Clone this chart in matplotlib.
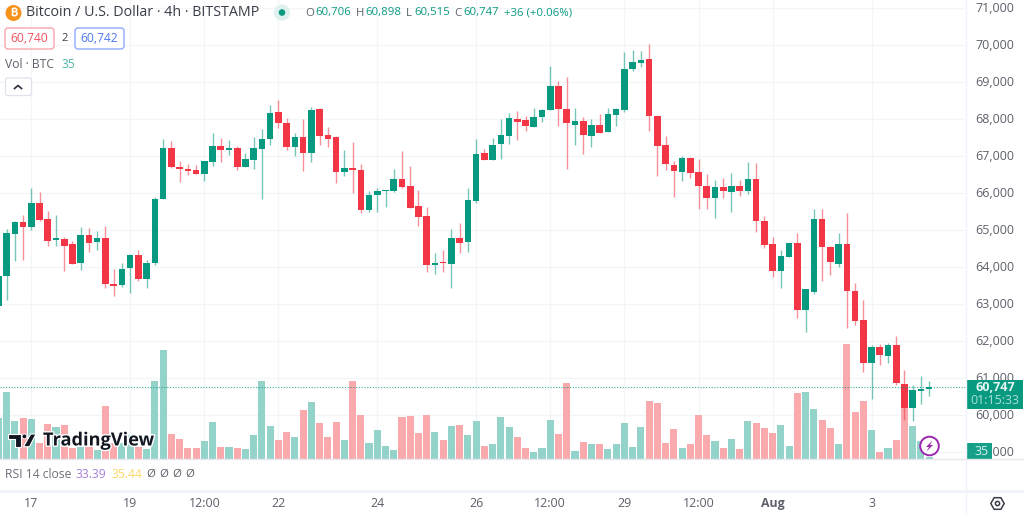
import matplotlib
matplotlib.use('Agg')
import matplotlib.pyplot as plt
import matplotlib.patheffects as pe
from matplotlib.patches import Circle, FancyBboxPatch, Polygon, Rectangle, RegularPolygon
from matplotlib.transforms import ScaledTranslation

plt.rcParams['font.family'] = ['Open Sans', 'DejaVu Sans']

# 4h candles
opens = [62950, 63757, 64874, 65208, 65073, 65721, 65280, 64712, 64739, 64622,
         64091, 64865, 64676, 64766, 63532, 63514, 63955, 64325, 63676, 64091,
         65829, 67217, 66703, 66640, 66604, 66505, 66829, 67262, 67145, 67199,
         66694, 66883, 67190, 67451, 68172, 67892, 67226, 67514, 67064, 68262,
         67550, 67496, 66568, 66676, 66613, 65523, 65928, 66046, 66037, 66379,
         66181, 65640, 65361, 64055, 64118, 64073, 64766, 64658, 65766, 67064,
         66883, 67325, 67541, 68001, 67956, 67784, 68046, 68226, 68874, 68271,
         67820, 67938, 67541, 67838, 67640, 68109, 68226, 69352, 69514, 69604,
         68073, 67280, 66757, 66568, 66938, 66559, 66181, 65866, 66154, 66028,
         66181, 66046, 66361, 65226, 64605, 63875, 64253, 64650, 62821, 63316,
         65280, 64542, 64082, 64605, 63344, 62551, 61407, 61830, 61587, 61875,
         60830, 60190, 60650, 60706]
closes = [63750, 64901, 65208, 65073, 65721, 65271, 64694, 64766, 64559, 64073,
          64865, 64649, 64766, 63541, 63478, 63946, 64307, 63676, 64091, 65838,
          67217, 66685, 66631, 66577, 66505, 66847, 67262, 67145, 67199, 66703,
          66901, 67199, 67460, 68154, 67892, 67244, 67514, 67064, 68235, 67541,
          67460, 66568, 66676, 66604, 65532, 65937, 66037, 66064, 66379, 66163,
          65595, 65352, 64055, 64100, 64100, 64766, 64649, 65802, 67037, 66883,
          67298, 67559, 68019, 67911, 67802, 68055, 68235, 68874, 68262, 67883,
          67938, 67568, 67838, 67622, 68118, 68253, 69352, 69532, 69577, 68082,
          67262, 66766, 66586, 66938, 66541, 66172, 65847, 66163, 66046, 66181,
          66046, 66361, 65226, 64596, 63893, 64289, 64650, 62821, 63389, 65280,
          64533, 64118, 64605, 63344, 62524, 61407, 61830, 61605, 61875, 60866,
          60181, 60659, 60695, 60747]
highs = [63800, 65010, 65226, 65397, 66118, 66018, 65514, 65406, 64793, 64685,
         65082, 65037, 64964, 65100, 63946, 64109, 64334, 64442, 64172, 65874,
         67460, 67397, 66856, 66775, 66757, 66847, 67613, 67478, 67433, 67253,
         67073, 67514, 67730, 68379, 68505, 68010, 67604, 67982, 68325, 68280,
         67766, 67532, 67154, 67361, 66775, 66037, 66118, 66064, 66631, 67118,
         66721, 66064, 65604, 64361, 64451, 65010, 65172, 66136, 67451, 67181,
         67478, 68001, 68145, 68217, 68073, 68289, 68271, 69415, 69010, 69118,
         68289, 68037, 67992, 68127, 68289, 68280, 69793, 69856, 69829, 70010,
         68100, 67532, 66866, 66983, 66974, 66920, 66514, 66334, 66397, 66523,
         66343, 66820, 66793, 65380, 64812, 64452, 64650, 64911, 63389, 65560,
         65551, 64569, 64902, 65461, 63551, 63109, 61893, 61911, 61929, 62136,
         61217, 60794, 61055, 60898]
lows = [62950, 63100, 64154, 64181, 65000, 65244, 64568, 64559, 63892, 64073,
        63919, 64406, 64460, 63415, 63217, 63442, 63298, 63622, 63415, 64037,
        65829, 66676, 66289, 66487, 66505, 66325, 66730, 66838, 67009, 66622,
        66685, 66640, 65829, 67298, 67757, 67163, 66982, 66586, 66838, 67298,
        67244, 66271, 66460, 65983, 65451, 65487, 65469, 65622, 66010, 66136,
        65577, 65109, 63857, 63811, 63866, 63415, 64370, 64406, 65712, 66874,
        66874, 66919, 67325, 67424, 67667, 67784, 67919, 68226, 67802, 66649,
        67280, 67055, 67244, 67622, 67631, 67811, 68190, 69289, 69406, 67667,
        66451, 66604, 65875, 66325, 66406, 65550, 65550, 65307, 65866, 65487,
        65919, 65974, 64929, 64515, 63713, 63416, 64253, 62614, 62235, 63271,
        63623, 63776, 64001, 62344, 62434, 61163, 60434, 61344, 61407, 60794,
        59857, 59830, 60290, 60515]
volumes = [610, 1000, 570, 610, 600, 235, 525, 485, 510, 160,
           185, 175, 135, 800, 235, 235, 360, 185, 150, 1165,
           1640, 370, 300, 160, 170, 270, 560, 180, 180, 170,
           155, 365, 1165, 500, 290, 410, 335, 735, 855, 545,
           325, 555, 280, 1165, 655, 235, 435, 190, 135, 625,
           645, 390, 655, 400, 290, 490, 510, 355, 570, 190,
           225, 625, 480, 325, 160, 105, 160, 590, 370, 1140,
           125, 255, 225, 225, 145, 225, 535, 180, 480, 870,
           845, 235, 450, 160, 225, 655, 360, 270, 170, 300,
           150, 570, 545, 465, 390, 510, 190, 990, 1010, 745,
           590, 460, 225, 1725, 710, 870, 435, 105, 160, 290,
           785, 500, 265, 35]

time_bars = [4, 16, 25, 34, 46, 58, 67, 76, 85, 94, 106]
time_labels = ['17', '19', '12:00', '22', '24', '26', '12:00', '29', '12:00', 'Aug', '3']
price_ticks = list(range(59000, 71001, 1000))
last_price = 60747

GREEN = '#089981'
RED = '#f23645'
GRID = '#f4f5f8'
LABEL = '#5d606b'
PRICE_LO, PRICE_HI = 58803, 71208
VOL_TOP = 6885

fig = plt.figure(figsize=(10.24, 5.15), dpi=100, facecolor='white')
pos = [0, 56 / 515, 966 / 1024, 459 / 515]

# volume sits underneath, same box as the prices
vol_ax = fig.add_axes(pos, zorder=1)
price_ax = fig.add_axes(pos, zorder=2)
price_ax.patch.set_alpha(0)

bars = list(range(len(opens)))
up = [c >= o for o, c in zip(opens, closes)]
colors = [GREEN if u else RED for u in up]
vol_colors = ['#93d3ca' if u else '#faa9ad' for u in up]

vol_ax.bar(bars, volumes, width=0.86, color=vol_colors, linewidth=0, zorder=2)
vol_ax.set_ylim(0, VOL_TOP)
vol_ax.set_xlim(0.2, 117.47)
vol_ax.set_yticks([])
vol_ax.set_xticks(time_bars)
vol_ax.set_xticklabels(time_labels, fontsize=8.9, color=LABEL)
vol_ax.tick_params(axis='x', length=0, pad=27.5)
vol_ax.get_xticklabels()[9].set_fontweight('bold')
for b in time_bars:
    vol_ax.axvline(b, color=GRID, lw=1, zorder=0)
for p in price_ticks:
    vol_ax.axhline((p - PRICE_LO) / (PRICE_HI - PRICE_LO) * VOL_TOP, color=GRID, lw=1, zorder=0)
for s in vol_ax.spines.values():
    s.set_visible(False)

price_ax.vlines(bars, lows, highs, colors=colors, lw=1, alpha=0.55)
price_ax.bar(bars, [abs(c - o) for o, c in zip(opens, closes)], bottom=[min(o, c) for o, c in zip(opens, closes)],
             width=0.8, color=colors, linewidth=0)
price_ax.axhline(last_price, color=GREEN, lw=0.8, ls=(0, (1, 1.5)), alpha=0.8)
price_ax.set_xlim(0.2, 117.47)
price_ax.set_ylim(PRICE_LO, PRICE_HI)
price_ax.set_xticks([])
price_ax.yaxis.tick_right()
price_ax.set_yticks(price_ticks)
price_ax.set_yticklabels(['{:,}'.format(p) for p in price_ticks], fontsize=9, color=LABEL)
price_ax.tick_params(axis='y', length=0, pad=6.5)
up_1px = ScaledTranslation(0, 1 / 100, fig.dpi_scale_trans)
for t in price_ax.get_yticklabels():
    t.set_transform(t.get_transform() + up_1px)
for s in price_ax.spines.values():
    s.set_visible(False)

# everything around the chart, placed in screen pixels
ov = fig.add_axes([0, 0, 1, 1], zorder=3)
ov.set_xlim(0, 1024)
ov.set_ylim(515, 0)
ov.axis('off')


def label(x, y, s, color=LABEL, size=8.7, ha='left', **kw):
    return ov.text(x, y, s, color=color, fontsize=size, ha=ha, va='center', **kw)


ov.plot([966, 966], [0, 515], color='#f0f3fa', lw=1)
ov.plot([0, 1024], [459, 459], color='#e6e8ee', lw=1)
ov.plot([0, 1024], [490.5, 490.5], color='#f0f3fa', lw=2)

# header
ov.add_patch(Circle((13.5, 13), 8, color='#f7931a', lw=0))
label(13.5, 12.5, '₿', color='white', size=8, ha='center', family=['Inter', 'Noto Sans', 'Roboto', 'DejaVu Sans'], weight='bold')
label(26, 13, 'Bitcoin / U.S. Dollar · 4h · BITSTAMP', color='#3a3d48', size=10.3)
ov.add_patch(Circle((282, 12.5), 8, color='#dff1ee', lw=0))
ov.add_patch(Circle((282, 12.5), 3.3, color=GREEN, lw=0))
for x, s, c in [(305, 'O', LABEL), (315, '60,706', GREEN), (356, 'H', LABEL), (365, '60,898', GREEN),
                (406, 'L', LABEL), (414, '60,515', GREEN), (454, 'C', LABEL), (463, '60,747', GREEN),
                (504, '+36 (+0.06%)', GREEN)]:
    label(x, 13, s, color=c, size=8.2)

ov.add_patch(FancyBboxPatch((5, 28), 49, 21, boxstyle='round,pad=0,rounding_size=3', fc='white', ec='#f7a6ac', lw=1))
label(29.5, 38.5, '60,740', color='#f0525f', ha='center')
label(64.5, 38.5, '2', color='#3a3d48', ha='center', size=8)
ov.add_patch(FancyBboxPatch((75, 28), 49, 21, boxstyle='round,pad=0,rounding_size=3', fc='white', ec='#8fa9fb', lw=1))
label(99.5, 38.5, '60,742', color='#4f78f0', ha='center')
label(5, 64.5, 'Vol · BTC', color='#5d606b')
label(61, 64.5, '35', color='#4fb7a7')
ov.add_patch(FancyBboxPatch((5.5, 78), 26, 17.5, boxstyle='round,pad=0,rounding_size=2', fc='white', ec='#e0e3eb', lw=0.9))
ov.plot([14.5, 18, 21.5], [88.5, 85.5, 88.5], color='#2a2e39', lw=1.2)

# watermark
halo = [pe.withStroke(linewidth=2, foreground='white')]
for poly in ([(8, 434), (20.7, 434), (20.7, 446.7), (15.3, 446.7), (15.3, 439.3), (8, 439.3)],
             [(30.7, 434), (36, 434), (29.5, 446.7), (23.5, 446.7)]):
    ov.add_patch(Polygon(poly, closed=True, fc='#131722', ec='white', lw=0.8))
ov.add_patch(Circle((24.4, 436.4), 2.4, fc='#131722', ec='white', lw=0.6))
label(43, 440.5, 'TradingView', color='#131722', size=13.1, weight='bold', path_effects=halo)

# rsi legend
label(5, 474, 'RSI 14 close', color='#6d707b')
label(76, 474, '33.39', color='#a77fd8')
label(111, 474, '35.44', color='#fbd866')
for x in [146, 159, 172, 185]:
    label(x, 474, 'Ø', color='#5d606b', ha='left', size=8.2)

# last price and volume tags
ov.add_patch(Rectangle((967, 380), 56, 28.5, color=GREEN, lw=0))
label(995, 387.5, '60,747', color='#e4f5f2', size=9, ha='center', weight='bold')
label(995, 401, '01:15:33', color='#a9dfd5', size=9, ha='center')
ov.add_patch(Rectangle((967, 443), 25, 16, color='#16a08a', lw=0))
label(982, 451.5, '35', color='#d7f0ec', size=9, ha='center')

# lightning badge
ov.add_patch(Circle((929.5, 446), 9.3, fc='white', ec='#9c27b0', lw=1.4))
ov.add_patch(Polygon([(932.5, 440.5), (926, 447), (929, 447), (926.5, 451.5), (933, 445), (930, 445)],
                     closed=True, fc='#9c27b0', lw=0))

# settings icon
ov.add_patch(RegularPolygon((997.5, 503.5), 6, radius=6.7, orientation=0.5236, fc='none', ec='#3a3d48', lw=1.1))
ov.add_patch(Circle((997.5, 503.5), 2.1, fc='none', ec='#3a3d48', lw=1.1))

fig.savefig('out.png', dpi=100)
